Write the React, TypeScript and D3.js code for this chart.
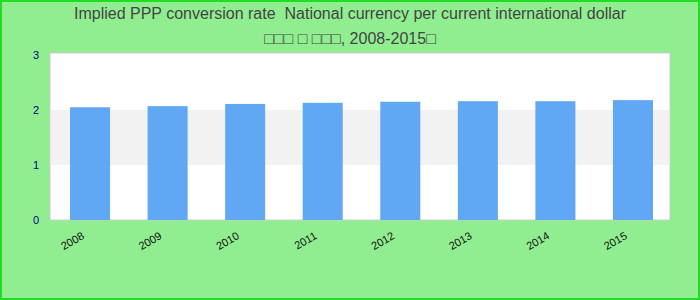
import React from "react";
import * as d3 from "d3";

const categories = ["2008", "2009", "2010", "2011", "2012", "2013", "2014", "2015"];
const values = [2.05, 2.07, 2.11, 2.13, 2.15, 2.16, 2.16, 2.18];
const yTicks = [0, 1, 2, 3];
const titleLine1 = "Implied PPP conversion rate  National currency per current international dollar";
const titleLine2 = "□□□ □ □□□, 2008-2015□";

export default function App() {
  const W = 700, H = 300;
  const left = 50, right = 670, top = 53, bottom = 220;
  const x = d3.scaleBand<string>().domain(categories).range([left, 673]).paddingInner(0.484).paddingOuter(0.258);
  const y = d3.scaleLinear().domain([0, 3]).range([bottom, 55]);
  const font = "'Liberation Sans', Arial, sans-serif";
  return (
    <svg width={W} height={H} style={{ position: "absolute", left: 0, top: 0 }}>
      <rect x={1} y={1} width={W - 2} height={H - 2} fill="#90ee90" stroke="#22dd22" strokeWidth={2} />
      <text x={W / 2} y={19} textAnchor="middle" fontFamily={font} fontSize={16} fill="#444" style={{ whiteSpace: "pre" }}>{titleLine1}</text>
      <text x={W / 2} y={44} textAnchor="middle" fontFamily={font} fontSize={16} fill="#444" style={{ whiteSpace: "pre" }}>{titleLine2}</text>
      <rect x={left} y={top} width={right - left} height={bottom - top} fill="#fff" stroke="#cccccc" strokeWidth={1} />
      <rect x={left + 0.5} y={y(2)} width={right - left - 1} height={y(1) - y(2)} fill="#f2f2f2" />
      {values.map((v, i) => (
        <rect key={categories[i]} x={x(categories[i])} y={y(v)} width={x.bandwidth()} height={bottom - y(v)} fill="#61a8f4" />
      ))}
      {yTicks.map((t) => (
        <text key={t} x={39} y={y(t) + 4} textAnchor="end" fontFamily={font} fontSize={11} fill="#00008b">{t}</text>
      ))}
      {categories.map((c) => {
        const cx = (x(c) as number) + x.bandwidth() / 2 - 5;
        const cy = 238;
        return (
          <text key={c} x={cx} y={cy} textAnchor="end" fontFamily={font} fontSize={11} fill="#111" transform={`rotate(-30 ${cx} ${cy})`}>{c}</text>
        );
      })}
    </svg>
  );
}
